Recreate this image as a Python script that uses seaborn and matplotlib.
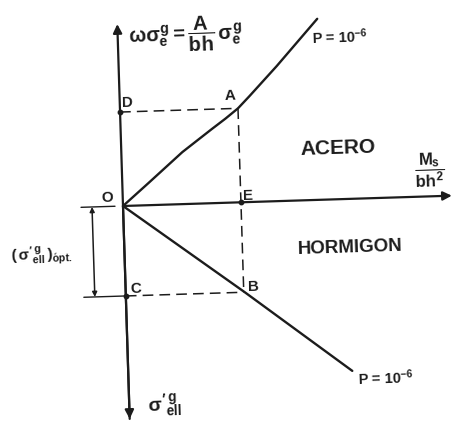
import numpy as np
import matplotlib
matplotlib.use("Agg")
import matplotlib.pyplot as plt
import matplotlib.transforms as mtransforms
from matplotlib import font_manager
import seaborn as sns

# Diagram values (M_s/bh^2 along x, stress along y), schematic units
steel_x = [0, 26, 61, 91, 105, 118, 130, 158, 200]
steel_y = [0, 22, 52, 74, 84, 94, 106, 135, 181]
concrete_x = [0, 119, 224]
concrete_y = [0, -90, -172]
point_A = (118, 94)
point_B = (118, -90)
curve_label = r"P = 10$^{-6}$"

sns.set_theme(style="white")
installed = {f.name for f in font_manager.fontManager.ttflist}
face = next((n for n in ["Liberation Sans Narrow", "Liberation Sans", "DejaVu Sans"]
             if n in installed), "DejaVu Sans")
plt.rcParams["font.family"] = [face, "DejaVu Sans"]
plt.rcParams["font.weight"] = "bold"
plt.rcParams["mathtext.fontset"] = "custom"
for key in ["rm", "it", "bf", "sf"]:
    plt.rcParams[f"mathtext.{key}"] = f"{face}:bold"

W, H = 458, 427
fig = plt.figure(figsize=(W / 100, H / 100), dpi=100)
ax = fig.add_axes([0, 0, 1, 1])
ax.set_xlim(-123, W - 123)
ax.set_ylim(-(H - 207), 207)
ax.axis("off")

ink = "#1c1c1c"
# the whole sketch sits slightly turned on the sheet
tilt = 1.8
rot = mtransforms.Affine2D().rotate_deg(tilt) + ax.transData

arrow = dict(arrowstyle="-|>", color=ink, lw=1.6, mutation_scale=13,
             shrinkA=0, shrinkB=0)
# axes
ax.annotate("", xy=(0, 182), xytext=(0, -213), xycoords=rot, textcoords=rot,
            arrowprops=arrow)
ax.annotate("", xy=(0, -213), xytext=(0, 0), xycoords=rot, textcoords=rot,
            arrowprops=arrow)
ax.annotate("", xy=(329, 0), xytext=(0, 0), xycoords=rot, textcoords=rot,
            arrowprops=arrow)

# steel and concrete curves
sns.lineplot(x=steel_x, y=steel_y, ax=ax, color=ink, lw=1.7, transform=rot,
             estimator=None)
sns.lineplot(x=concrete_x, y=concrete_y, ax=ax, color=ink, lw=1.7,
             transform=rot, estimator=None)

# projection lines
dash = dict(color=ink, lw=1.1, dashes=(7, 4), transform=rot)
ax.plot([0, point_A[0]], [point_A[1], point_A[1]], **dash)
ax.plot([point_A[0], point_A[0]], [point_A[1], point_B[1]], **dash)
ax.plot([0, point_B[0]], [point_B[1], point_B[1]], **dash)
ax.plot([-42, 0], [point_B[1], point_B[1]], color=ink, lw=1.0, transform=rot)
ax.plot([-42, -8], [0, 0], color=ink, lw=1.0, transform=rot)
for px, py in [(0, point_A[1]), (point_A[0], 0), (0, point_B[1])]:
    ax.plot([px], [py], marker="o", ms=3.2, color=ink, transform=rot)

# optimum concrete stress dimension
ax.annotate("", xy=(-31, 0), xytext=(-31, point_B[1]), xycoords=rot,
            textcoords=rot,
            arrowprops=dict(arrowstyle="<|-|>", color=ink, lw=1.1,
                            mutation_scale=7, shrinkA=0, shrinkB=0))

txt = dict(color=ink, transform=rot, rotation=tilt, fontweight="bold")
ax.text(10, 172, r"$\omega\sigma_e^g = \dfrac{A}{bh}\,\sigma_e^g$",
        fontsize=14.5, ha="left", va="center", **txt)
ax.text(194, 164, curve_label, fontsize=10.5, ha="left", va="center", **txt)
ax.text(229, -178, curve_label, fontsize=10.5, ha="left", va="center", **txt)

for name, (lx, ly) in {"D": (8, 104), "A": (110, 108), "O": (-16, 10),
                       "E": (125, 7), "C": (10, -82), "B": (128, -84)}.items():
    ax.text(lx, ly, name, fontsize=11, ha="center", va="center", **txt)

ax.text(217, 52, "ACERO", fontsize=15, ha="center", va="center", **txt)
ax.text(226, -48, "HORMIGON", fontsize=13.5, ha="center", va="center", **txt)
ax.text(308, 27, r"$\dfrac{M_s}{bh^2}$", fontsize=12,
        ha="center", va="center", **txt)
ax.text(18, -199, r"$\sigma'^{\,g}_{ell}$", fontsize=14, ha="left",
        va="center", **txt)
ax.text(-114, -45, r"$(\,\sigma'^{\,g}_{ell}\,)_{\'opt.}$",
        fontsize=11, ha="left", va="center", **txt)

fig.savefig("out.png", dpi=100, facecolor="white")
